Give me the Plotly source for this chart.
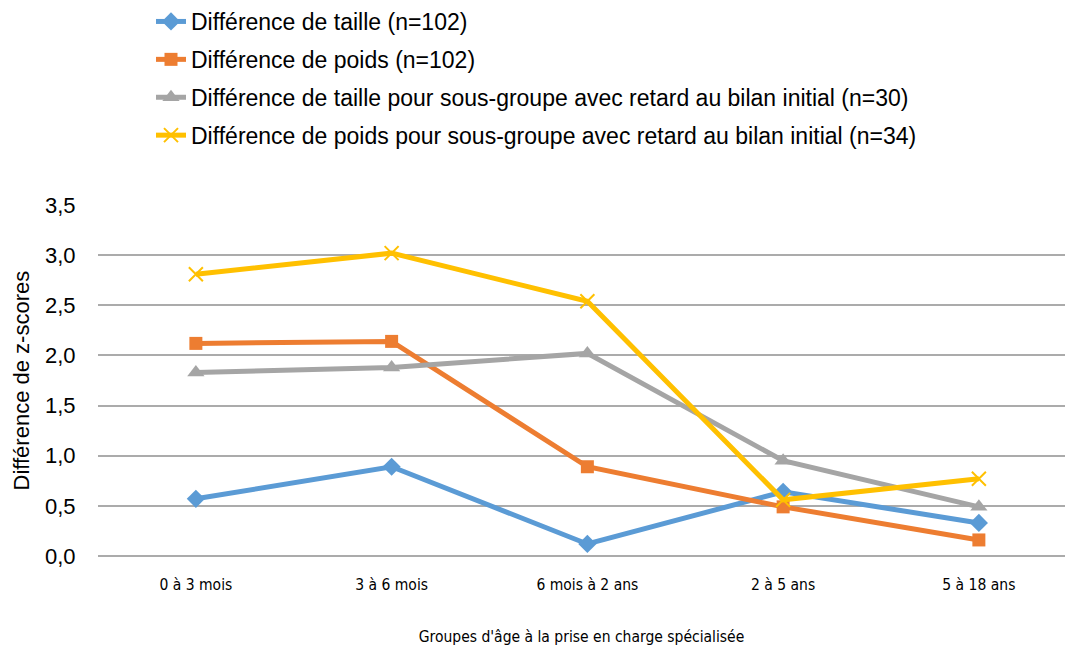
import plotly.graph_objects as go

categories = ["0 à 3 mois", "3 à 6 mois", "6 mois à 2 ans", "2 à 5 ans", "5 à 18 ans"]

taille = [0.57, 0.89, 0.12, 0.64, 0.33]
poids = [2.12, 2.14, 0.89, 0.49, 0.16]
taille_retard = [1.83, 1.88, 2.02, 0.95, 0.49]
poids_retard = [2.81, 3.02, 2.54, 0.56, 0.77]

names = [
    "Différence de taille (n=102)",
    "Différence de poids (n=102)",
    "Différence de taille pour sous-groupe avec retard au bilan initial (n=30)",
    "Différence de poids pour sous-groupe avec retard au bilan initial (n=34)",
]
colors = ["#5B9BD5", "#ED7D31", "#A5A5A5", "#FFC000"]
symbols = ["diamond", "square", "triangle-up", "x-thin"]
sizes = [14, 13, 15, 14]
series = [taille, poids, taille_retard, poids_retard]

y_title = "Différence de z-scores"
x_title = "Groupes d'âge à la prise en charge spécialisée"

FONT = "Liberation Sans, Arial, Helvetica, sans-serif"
NARROW = "Liberation Sans Narrow, Arial Narrow, DejaVu Sans Condensed, Liberation Sans, sans-serif"

fig = go.Figure()
for i, (nm, col, sym, sz, vals) in enumerate(zip(names, colors, symbols, sizes, series)):
    marker = dict(symbol=sym, size=sz, color=col)
    if sym == "x-thin":
        marker = dict(symbol=sym, size=sz, color=col, line=dict(color=col, width=2))
    fig.add_trace(go.Scatter(
        x=categories, y=vals, name=nm, mode="lines+markers",
        line=dict(color=col, width=5), marker=marker,
        legendgroup=f"g{i}",
    ))

fig.update_layout(
    width=1065, height=646,
    margin=dict(l=98, r=0, t=205, b=90, autoexpand=False),
    paper_bgcolor="white", plot_bgcolor="white",
    separators=", ",
    font=dict(family=FONT, size=22, color="#000000"),
    showlegend=True,
    legend=dict(
        xref="container", yref="container",
        x=151 / 1065, y=1.0, xanchor="left", yanchor="top",
        font=dict(family=FONT, size=23, color="#000000"),
        tracegroupgap=5, bgcolor="rgba(0,0,0,0)",
    ),
    xaxis=dict(
        type="category", range=[-0.5, 4.44], automargin=False,
        showgrid=False, showline=False, zeroline=False,
        tickfont=dict(family=NARROW, size=15.5, color="#000000"),
        tickangle=0,
        ticks="outside", ticklen=14, tickcolor="rgba(0,0,0,0)",
        title=dict(text=x_title,
                   font=dict(family=NARROW, size=15.5, color="#000000"), standoff=38),
    ),
    yaxis=dict(
        range=[0, 3.5], dtick=0.5, tickformat=".1f", automargin=False,
        showgrid=True, gridcolor="#ABABAB", gridwidth=1.5,
        zeroline=True, zerolinecolor="#ABABAB", zerolinewidth=1.5,
        showline=False,
        ticks="outside", ticklen=17, tickcolor="rgba(0,0,0,0)",
        tickfont=dict(family=FONT, size=22, color="#000000"),
    ),
    annotations=[dict(
        text=y_title, textangle=-90, showarrow=False,
        xref="paper", yref="paper", x=(21 - 98) / 967, y=0.5,
        xanchor="center", yanchor="middle",
        font=dict(family=FONT, size=22, color="#000000"),
    )],
)

fig.write_html(
    "out.html",
    config={"displayModeBar": False},
    post_script="document.body.style.margin='0px';document.body.style.padding='0px';",
)
